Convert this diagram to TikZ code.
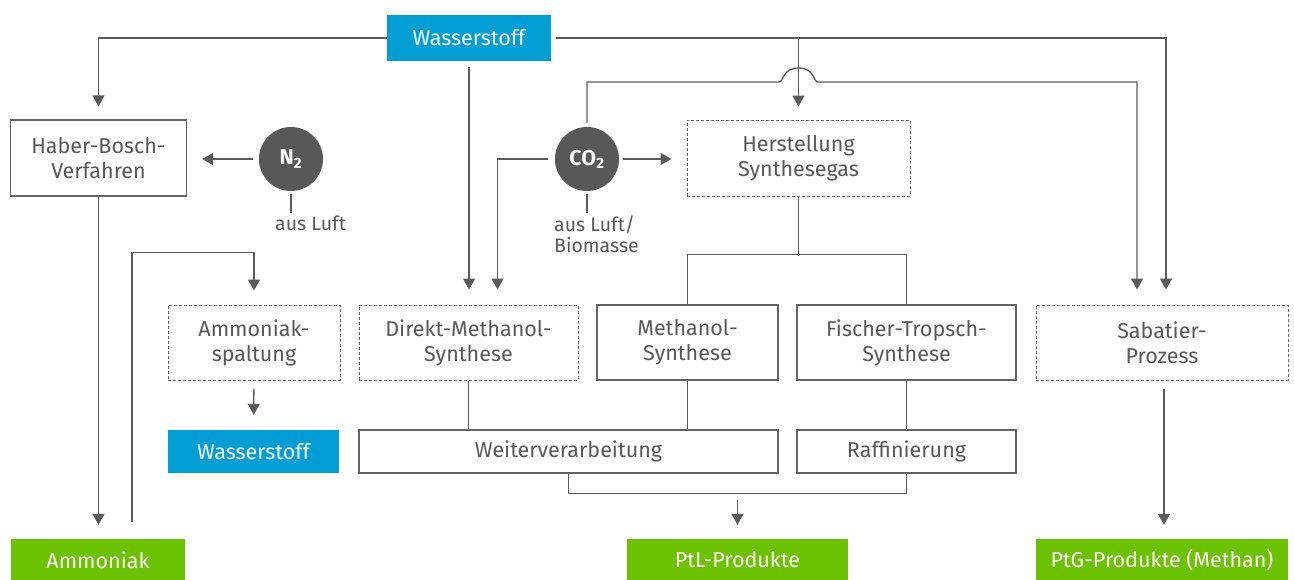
\documentclass[tikz,border=0pt]{standalone}
\usepackage{fontspec}
\setmainfont{Fira Sans}
\usetikzlibrary{arrows.meta,calc}
\definecolor{txtc}{RGB}{88,88,88}
\definecolor{linec}{RGB}{90,90,90}
\definecolor{boxc}{RGB}{100,100,100}
\definecolor{blu}{RGB}{0,158,211}
\definecolor{grn}{RGB}{108,194,0}
\definecolor{circc}{RGB}{88,88,88}
\begin{document}
\begin{tikzpicture}[x=1pt,y=-1pt,
  font=\fontsize{21.5}{25}\selectfont, text=txtc,
  solidbox/.style={draw=boxc, line width=1.2pt, align=center, inner sep=0pt},
  dashbox/.style={solidbox, dash pattern=on 3pt off 2pt, line width=1pt},
  bluebox/.style={fill=blu, text=white, inner sep=0pt},
  greenbox/.style={fill=grn, text=white, inner sep=0pt},
  gascirc/.style={circle, fill=circc, text=white, minimum size=64pt, inner sep=0pt, font=\fontsize{21.5}{24}\selectfont\bfseries},
  ln/.style={draw=linec, line width=1.3pt},
  arr/.style={ln, -{Triangle[width=12pt,length=11pt]}},
  lbl/.style={inner sep=0pt, align=left, font=\fontsize{19.5}{21}\selectfont}
]
\useasboundingbox (0,0) rectangle (1294,579);

% nodes
\node[bluebox, minimum width=164pt, minimum height=46pt] (h2top) at (469,38) {Wasserstoff};
\node[solidbox, minimum width=176pt, minimum height=76pt] (hb) at (98.5,158) {Haber-Bosch-\\Verfahren};
\node[gascirc] (n2) at (291,159) {N\textsubscript{2}};
\node[lbl, anchor=north west] (n2lbl) at (275,216) {aus Luft};
\node[gascirc] (co2) at (587,159) {CO\textsubscript{2}};
\node[lbl, anchor=north west] (co2lbl) at (554,216) {aus Luft/\\Biomasse};
\node[dashbox, minimum width=223pt, minimum height=76pt] (syn) at (798.5,158) {Herstellung\\Synthesegas};
\node[dashbox, minimum width=172pt, minimum height=75pt] (amsp) at (254,342.5) {Ammoniak-\\spaltung};
\node[bluebox, minimum width=171pt, minimum height=43pt] (h2b) at (253.5,451.5) {Wasserstoff};
\node[dashbox, minimum width=219pt, minimum height=75pt] (dms) at (468.5,342.5) {Direkt-Methanol-\\Synthese};
\node[solidbox, minimum width=181pt, minimum height=75pt] (ms) at (687.5,342.5) {Methanol-\\Synthese};
\node[solidbox, minimum width=219pt, minimum height=75pt] (ft) at (906.5,342.5) {Fischer-Tropsch-\\Synthese};
\node[dashbox, minimum width=252pt, minimum height=75pt] (sab) at (1162,342.5) {Sabatier-\\Prozess};
\node[solidbox, minimum width=419pt, minimum height=43pt] (wv) at (568.5,451.5) {Weiterverarbeitung};
\node[solidbox, minimum width=219pt, minimum height=43pt] (raf) at (906.5,451.5) {Raffinierung};
\node[greenbox, minimum width=174pt, minimum height=42pt] (amm) at (98,560) {Ammoniak};
\node[greenbox, minimum width=221pt, minimum height=42pt] (ptl) at (737.5,560) {PtL-Produkte};
\node[greenbox, minimum width=252pt, minimum height=42pt] (ptg) at (1162,560) {PtG-Produkte (Methan)};

% hop coordinates
\coordinate (hopL) at (779,82);
\coordinate (hopR) at (818,82);

% hydrogen distribution
\draw[arr, shorten >=13pt] (h2top.west) -| (hb.north);
\draw[arr, shorten <=5pt, shorten >=15pt] (h2top.east) -| ($(sab.north)+(4,0)$);
\draw[arr, shorten >=13pt] (h2top.east -| syn.north) -- (syn.north);
\draw[arr, shorten <=6pt, shorten >=15pt] (h2top.south) -- (h2top.south |- dms.north);

% CO2
\draw[arr, shorten <=4pt, shorten >=15pt] (co2.north) |- (hopL)
   .. controls ($(hopL)+(5,0)$) and ($(hopL)+(3,-14)$) .. ($(hopL)!0.5!(hopR)+(0,-14)$)
   .. controls ($(hopR)+(-3,-14)$) and ($(hopR)+(-5,0)$) .. (hopR)
   -| ($(sab.north)+(-25,0)$);
\draw[arr, shorten <=7pt, shorten >=15pt] (co2.west) -| ($(dms.north)+(29,0)$);
\draw[arr, shorten <=4pt, shorten >=15pt] (co2.east) -- (co2.east -| syn.west);
\draw[ln, shorten <=3pt, shorten >=3pt] (co2.south) -- (co2.south |- co2lbl.north);

% N2
\draw[arr, shorten <=6pt, shorten >=15pt] (n2.west) -- (n2.west -| hb.east);
\draw[ln, shorten <=3pt, shorten >=3pt] (n2.south) -- (n2.south |- n2lbl.north);

% ammonia
\draw[arr, shorten >=14pt] (hb.south) -- (hb.south |- amm.north);
\draw[arr, shorten >=14pt] ($(amm.north)+(34,-17)$) |- ($(amsp.north)+(0,-52)$) -- (amsp.north);
\draw[arr, shorten <=8pt, shorten >=15pt] (amsp.south) -- (h2b.north);

% synthesis gas
\draw[ln] (syn.south) -- ($(syn.south)+(0,59)$);
\draw[ln] (ms.north) -- ++(0,-50) -| (ft.north);
\draw[ln] (dms.south) -- (dms.south |- wv.north);
\draw[ln] (ms.south) -- (ms.south |- wv.north);
\draw[ln] (ft.south) -- (raf.north);
\draw[ln] (wv.south) |- ($(raf.south)+(0,20)$) -- (raf.south);
\draw[arr, shorten >=14pt] ($(ptl.north)+(0,-39)$) -- (ptl.north);

% Sabatier
\draw[arr, shorten <=8pt, shorten >=14pt] ($(sab.south)+(2,0)$) -- ($(ptg.north)+(2,0)$);
\end{tikzpicture}
\end{document}
